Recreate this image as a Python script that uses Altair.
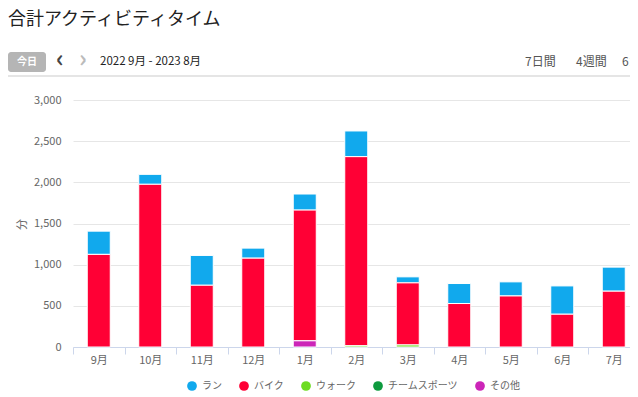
import altair as alt
import pandas as pd

# ---- data ----
months = ["9月", "10月", "11月", "12月", "1月", "2月", "3月", "4月", "5月", "6月", "7月"]
run_vals = [282, 121, 362, 122, 195, 312, 73, 243, 171, 344, 292]
bike_vals = [1125, 1976, 750, 1079, 1588, 2297, 754, 528, 620, 398, 678]
walk_vals = [0, 0, 0, 0, 0, 15, 25, 0, 0, 0, 0]
team_vals = [0, 0, 0, 0, 0, 0, 0, 0, 0, 0, 0]
other_vals = [0, 0, 0, 0, 75, 0, 0, 0, 0, 0, 0]

series_names = ["ラン", "バイク", "ウォーク", "チームスポーツ", "その他"]
series_colors = ["#11a9ed", "#ff0035", "#6ddc21", "#0e9a3e", "#cc25b8"]
stack_rank = [4, 3, 2, 1, 0]  # bottom of stack = 0

y_ticks = [0, 500, 1000, 1500, 2000, 2500, 3000]

FONT = "Noto Sans CJK JP"

rows = []
for name, rank, vals in zip(series_names, stack_rank,
                            [run_vals, bike_vals, walk_vals, team_vals, other_vals]):
    for m, v in zip(months, vals):
        if v > 0:
            rows.append({"month": m, "series": name, "value": v, "ord": rank})
df = pd.DataFrame(rows)

W = 557
bars = alt.Chart(df).mark_bar(width=23, stroke="white", strokeWidth=1).encode(
    x=alt.X("month:N", sort=months,
            scale=alt.Scale(paddingInner=0, paddingOuter=0, range=[0, 566.5]),
            axis=alt.Axis(title=None, labelAngle=0, tickBand="extent",
                          domainColor="#ccd6eb", tickColor="#ccd6eb", tickSize=7,
                          labelColor="#666666", labelFontSize=11, labelPadding=0,
                          grid=False)),
    y=alt.Y("value:Q", stack="zero",
            scale=alt.Scale(domain=[0, 3000], nice=False),
            axis=alt.Axis(title="分", values=y_ticks, format=",d", grid=True,
                          gridColor="#e6e6e6", ticks=False, domain=False,
                          labelPadding=12, labelColor="#666666", labelFontSize=11,
                          titleColor="#666666", titleFontSize=11,
                          titleFontWeight="normal", titleX=-46, titleY=124,
                          titleAngle=-90)),
    color=alt.Color("series:N",
                    scale=alt.Scale(domain=series_names, range=series_colors),
                    legend=alt.Legend(title=None, orient="none", legendX=114,
                                      legendY=281, direction="horizontal",
                                      symbolType="circle", symbolSize=95,
                                      symbolStrokeWidth=0, labelFontSize=10,
                                      labelColor="#666666", columnPadding=17,
                                      labelOffset=5, padding=0)),
    order=alt.Order("ord:Q", sort="ascending"),
)


def txt(t, x, y, size, color, weight="normal", align="left"):
    return alt.Chart(pd.DataFrame({"t": [t]})).mark_text(
        align=align, baseline="middle", fontSize=size, color=color,
        font=FONT, fontWeight=weight
    ).encode(text="t:N", x=alt.value(x), y=alt.value(y))


one = pd.DataFrame({"a": [0]})
button = alt.Chart(one).mark_rect(fill="#b5b5b5", cornerRadius=3).encode(
    x=alt.value(-65), x2=alt.value(-27), y=alt.value(-48), y2=alt.value(-28))
sep = alt.Chart(one).mark_rule(color="#dddddd", strokeWidth=1.5).encode(
    x=alt.value(-65), x2=alt.value(W), y=alt.value(-24))

header = [
    txt("合計アクティビティタイム", -65, -80, 18, "#222222"),
    button,
    txt("今日", -46, -38, 10, "#ffffff", "bold", "center"),
    txt("‹", -13, -40, 24, "#444444", "bold", "center"),
    txt("›", 10, -40, 24, "#bbbbbb", "bold", "center"),
    txt("2022 9月 - 2023 8月", 27, -38, 11.5, "#222222"),
    txt("7日間", 452, -38, 12, "#555555"),
    txt("4週間", 503, -38, 12, "#555555"),
    txt("6カ月", 549, -38, 12, "#555555"),
    sep,
]

chart = alt.layer(bars, *header).properties(
    width=W, height=247,
    autosize=alt.AutoSizeParams(type="none"),
    padding={"left": 65, "top": 92, "right": 0, "bottom": 50},
).configure_view(stroke=None).configure_axis(
    labelFont=FONT, titleFont=FONT
).configure_legend(labelFont=FONT)

chart.save("out.html", embed_options={"renderer": "svg", "actions": False})
